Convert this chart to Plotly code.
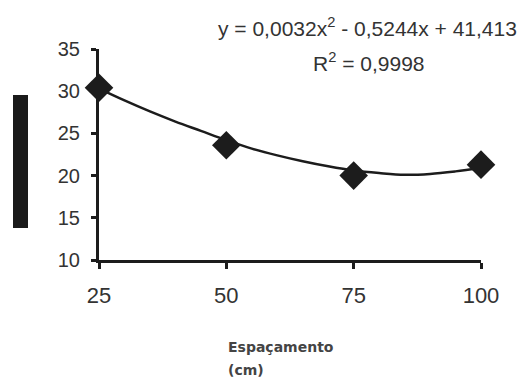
import plotly.graph_objects as go

# Data
espacamento = [25, 50, 75, 100]
valores = [30.4, 23.6, 20.0, 21.3]

# Trend curve points
trend_x = [25, 30, 35, 40, 45, 50, 55, 60, 65, 70, 75, 80, 85, 90, 95, 100]
trend_y = [30.3, 28.9, 27.6, 26.4, 25.3, 24.2, 23.2, 22.4, 21.7, 21.1, 20.6, 20.3, 20.1, 20.2, 20.5, 20.9]

x_ticks = [25, 50, 75, 100]
y_ticks = [10, 15, 20, 25, 30, 35]

FONT = "Liberation Sans, Arial, sans-serif"
INK = "#1c1c1c"
TXT = "#333333"

fig = go.Figure()
fig.add_trace(go.Scatter(
    x=trend_x, y=trend_y, mode="lines", line=dict(color=INK, width=2.5, shape="spline"),
    hoverinfo="skip", showlegend=False, cliponaxis=False,
))
fig.add_trace(go.Scatter(
    x=espacamento, y=valores, mode="markers",
    marker=dict(symbol="diamond", size=22, color=INK),
    showlegend=False, cliponaxis=False,
))

W, H = 530, 378
L, R, T, B = 99, 49, 49, 118
PW, PH = W - L - R, H - T - B


def px(x):
    return (x - L) / PW


def py(y):
    return (H - B - y) / PH


fig.update_layout(
    width=W, height=H,
    margin=dict(l=L, r=R, t=T, b=B),
    paper_bgcolor="white", plot_bgcolor="white",
    font=dict(family=FONT, color=TXT, size=19),
    xaxis=dict(
        range=[25, 100], tickvals=x_ticks, ticktext=[str(v) for v in x_ticks],
        showgrid=False, zeroline=False, showline=True, linecolor=INK, linewidth=3,
        ticks="outside", ticklen=6, tickwidth=3, tickcolor=INK,
        ticklabelstandoff=8, tickfont=dict(size=22, color=TXT),
    ),
    yaxis=dict(
        range=[10, 35], tickvals=y_ticks, ticktext=[str(v) for v in y_ticks],
        showgrid=False, zeroline=False, showline=True, linecolor=INK, linewidth=3,
        ticks="outside", ticklen=5, tickwidth=3, tickcolor=INK,
        ticklabelstandoff=7, tickfont=dict(size=20, color=TXT),
    ),
    shapes=[dict(type="rect", xref="paper", yref="paper",
                 x0=px(13), x1=px(28), y0=py(228), y1=py(95),
                 fillcolor="#1a1a1a", line=dict(width=0))],
    annotations=[
        dict(text="y = 0,0032x<sup>2</sup> - 0,5244x + 41,413", xref="paper", yref="paper",
             x=px(367), y=py(27), xanchor="center", yanchor="middle",
             showarrow=False, font=dict(size=21, color=TXT)),
        dict(text="R<sup>2</sup> = 0,9998", xref="paper", yref="paper",
             x=px(369), y=py(62), xanchor="center", yanchor="middle",
             showarrow=False, font=dict(size=21, color=TXT)),
        dict(text="<b>Espaçamento</b>", xref="paper", yref="paper",
             x=px(226), y=py(347), xanchor="left", yanchor="middle",
             align="left", showarrow=False,
             font=dict(size=14, color="#444444", family="DejaVu Sans, sans-serif")),
        dict(text="<b>(cm)</b>", xref="paper", yref="paper",
             x=px(226), y=py(370), xanchor="left", yanchor="middle",
             align="left", showarrow=False,
             font=dict(size=14, color="#444444", family="DejaVu Sans, sans-serif")),
    ],
)

fig.write_html("out.html", config={"displayModeBar": False},
               post_script="document.body.style.margin='0';document.body.style.padding='0';")
